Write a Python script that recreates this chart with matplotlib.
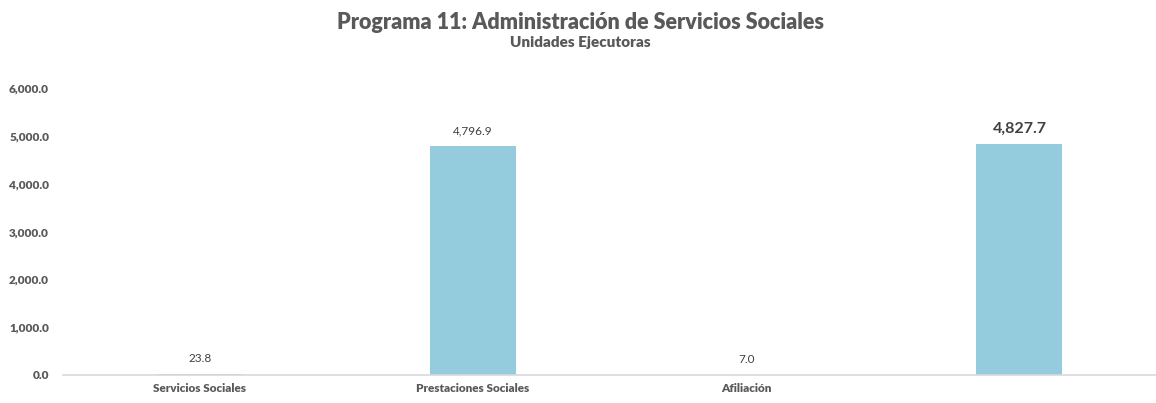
import matplotlib
matplotlib.use("Agg")
import matplotlib.pyplot as plt
from matplotlib.ticker import FuncFormatter

# datos
categorias = ["Servicios Sociales", "Prestaciones Sociales", "Afiliación", ""]
montos = [23.8, 4796.9, 7.0, 4827.7]
y_ticks = [0, 1000, 2000, 3000, 4000, 5000, 6000]

titulo = "Programa 11: Administración de Servicios Sociales"
subtitulo = "Unidades Ejecutoras"

gris = "#595959"
azul = "#95CCDD"

plt.rcParams["font.family"] = ["Lato", "DejaVu Sans"]

fig = plt.figure(figsize=(11.56, 4.03), dpi=100)
ax = fig.add_axes([0.0545, 0.0695, 0.9455, 0.712])

x = range(len(categorias))
bars = ax.bar(x, montos, width=0.315, color=azul, zorder=2)

for i, (b, v) in enumerate(zip(bars, montos)):
    if i == len(montos) - 1:
        ax.text(b.get_x() + b.get_width() / 2, v + 180, f"{v:,.1f}",
                ha="center", va="bottom", fontsize=11.5, fontweight="bold", color="#404040")
    else:
        ax.text(b.get_x() + b.get_width() / 2, v + 200, f"{v:,.1f}",
                ha="center", va="bottom", fontsize=8.5, color="#404040")

ax.set_xlim(-0.5, len(categorias) - 0.5)
ax.set_ylim(0, 6000)
ax.set_yticks(y_ticks)
ax.yaxis.set_major_formatter(FuncFormatter(lambda v, p: f"{v:,.1f}"))
ax.set_xticks(list(x))
ax.set_xticklabels(categorias)

for lbl in ax.get_yticklabels() + ax.get_xticklabels():
    lbl.set_fontweight("heavy")
    lbl.set_color(gris)
    lbl.set_fontsize(8.5)

ax.tick_params(axis="both", length=0)
ax.tick_params(axis="y", pad=10)
ax.tick_params(axis="x", pad=6)

for s in ["top", "right", "left"]:
    ax.spines[s].set_visible(False)
ax.spines["bottom"].set_color("#D9D9D9")
ax.spines["bottom"].set_linewidth(1.2)

fig.text(0.502, 0.945, titulo, ha="center", va="center", fontsize=15.5,
         fontweight="heavy", color=gris)
fig.text(0.502, 0.895, subtitulo, ha="center", va="center", fontsize=11,
         fontweight="heavy", color=gris)

fig.savefig("out.png", dpi=100)
